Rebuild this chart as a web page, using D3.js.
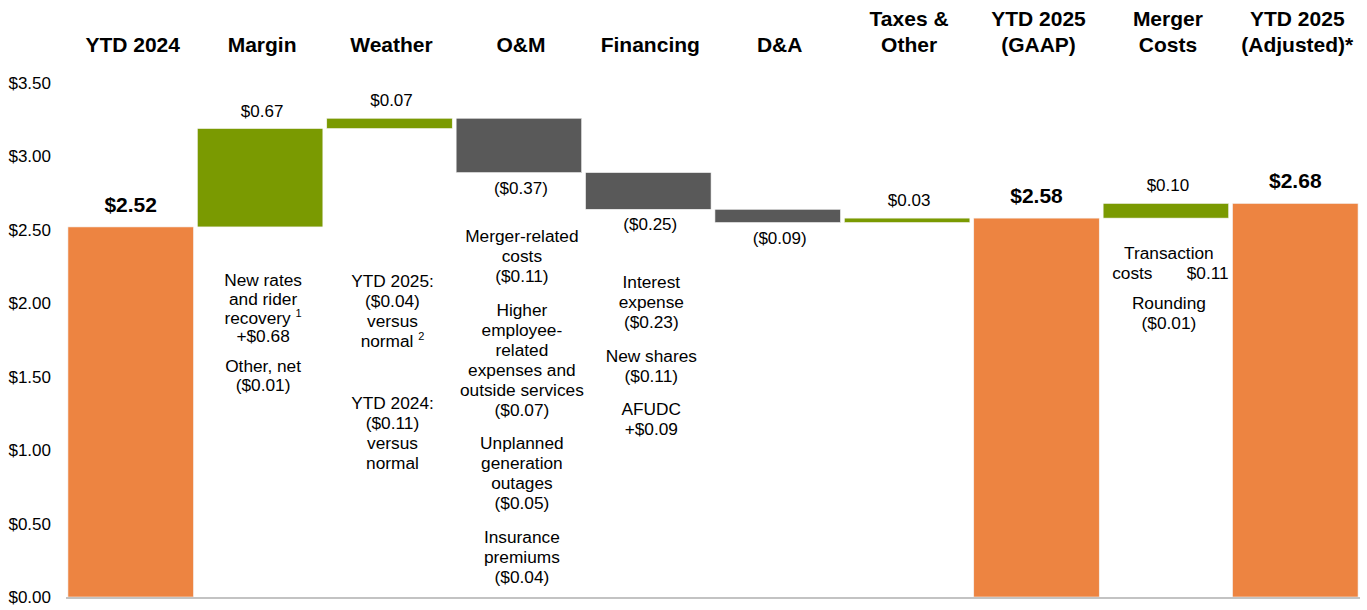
<!DOCTYPE html>
<html>
<head>
<meta charset="utf-8">
<script src="https://cdn.jsdelivr.net/npm/d3@7"></script>
<style>
  html, body { margin: 0; padding: 0; background: #fff; }
  svg { display: block; font-family: "Liberation Sans", Arial, Helvetica, sans-serif; }
</style>
</head>
<body>
<svg id="chart" width="1367" height="610"></svg>
<script>
// ---------- DATA ----------
const categories = ["YTD 2024", "Margin", "Weather", "O&M", "Financing", "D&A",
  "Taxes & Other", "YTD 2025 (GAAP)", "Merger Costs", "YTD 2025 (Adjusted)*"];
const headerLines = [["YTD 2024"], ["Margin"], ["Weather"], ["O&M"], ["Financing"], ["D&A"],
  ["Taxes &", "Other"], ["YTD 2025", "(GAAP)"], ["Merger", "Costs"], ["YTD 2025", "(Adjusted)*"]];
const values = [2.52, 0.67, 0.07, -0.37, -0.25, -0.09, 0.03, 2.58, 0.10, 2.68];
const kinds = ["total", "delta", "delta", "delta", "delta", "delta", "delta", "total", "delta", "total"];
const valueLabels = ["$2.52", "$0.67", "$0.07", "($0.37)", "($0.25)", "($0.09)", "$0.03", "$2.58", "$0.10", "$2.68"];
const yTicks = [0, 0.5, 1.0, 1.5, 2.0, 2.5, 3.0, 3.5];

// annotation blocks per category (each block = list of lines; "^" marks a superscript)
const annotMargin = [["New rates", "and rider", "recovery^1", "+$0.68"], ["Other, net", "($0.01)"]];
const annotWeather = [["YTD 2025:", "($0.04)", "versus", "normal^2"], ["YTD 2024:", "($0.11)", "versus", "normal"]];
const annotOM = [["Merger-related", "costs", "($0.11)"],
  ["Higher", "employee-", "related", "expenses and", "outside services", "($0.07)"],
  ["Unplanned", "generation", "outages", "($0.05)"],
  ["Insurance", "premiums", "($0.04)"]];
const annotFinancing = [["Interest", "expense", "($0.23)"], ["New shares", "($0.11)"], ["AFUDC", "+$0.09"]];
const annotMerger = [["Transaction", "costs|$0.11"], ["Rounding", "($0.01)"]];

// ---------- LAYOUT ----------
const colors = { total: "#ED8441", up: "#7A9A01", down: "#595959" };
const svg = d3.select("#chart");
const x = d3.scaleBand().domain(categories).range([66, 1360]).paddingInner(0.03).paddingOuter(0.015);
const y = d3.scaleLinear().domain([0, 3.5]).range([597, 83]);

// compute waterfall extents
let running = 0;
const bars = categories.map((c, i) => {
  let y0, y1;
  if (kinds[i] === "total") { y0 = 0; y1 = values[i]; running = values[i]; }
  else { y0 = running; y1 = running + values[i]; running = y1; }
  return { cat: c, v: values[i], kind: kinds[i], lo: Math.min(y0, y1), hi: Math.max(y0, y1), label: valueLabels[i] };
});

// y axis labels
const yAxis = d3.axisLeft(y).tickValues(yTicks).tickFormat(d => "$" + d3.format(".2f")(d)).tickSize(0).tickPadding(0);
const yg = svg.append("g").attr("transform", "translate(51,0)").call(yAxis);
yg.select(".domain").remove();
yg.selectAll("text").attr("font-size", 17).attr("fill", "#000")
  .attr("font-family", "'Liberation Sans', Arial, sans-serif");

// bars
svg.append("g").selectAll("rect").data(bars).join("rect")
  .attr("x", d => x(d.cat))
  .attr("width", x.bandwidth())
  .attr("y", d => y(d.hi))
  .attr("height", d => Math.max(1, y(d.lo) - y(d.hi)))
  .attr("fill", d => d.kind === "total" ? colors.total : (d.v >= 0 ? colors.up : colors.down))
  .attr("stroke", "#f4f4f4").attr("stroke-width", 0.6);

// baseline
svg.append("line").attr("x1", 66).attr("x2", 1360).attr("y1", y(0) + 1).attr("y2", y(0) + 1)
  .attr("stroke", "#c3c3c3").attr("stroke-width", 2);

// headers
const hg = svg.append("g");
categories.forEach((c, i) => {
  const lines = headerLines[i];
  const cx = x(c) + x.bandwidth() / 2 + 2;
  lines.forEach((l, j) => {
    const base = 52 - (lines.length - 1 - j) * 26;
    hg.append("text").attr("x", cx).attr("y", base).attr("text-anchor", "middle")
      .attr("font-size", 21).attr("font-weight", "bold").attr("fill", "#000").text(l);
  });
});

// value labels
svg.append("g").selectAll("text").data(bars).join("text")
  .attr("x", d => x(d.cat) + x.bandwidth() / 2 + (d.kind === "total" ? 0 : 2))
  .attr("y", d => d.kind === "total" ? y(d.hi) - 15 : (d.v >= 0 ? y(d.hi) - 12 : y(d.lo) + 21))
  .attr("text-anchor", "middle")
  .attr("font-size", d => d.kind === "total" ? 21 : 17)
  .attr("font-weight", d => d.kind === "total" ? "bold" : "normal")
  .attr("fill", "#000")
  .text(d => d.label);

// annotations
const LH = 20, GAP = 13.5, FS = 17.3;
function drawAnnot(cat, blocks, startY, blockStarts, lh) {
  const step = lh || LH;
  const g = svg.append("g");
  const x0 = x(cat), bw = x.bandwidth(), cx = x0 + bw / 2 + 3;
  let yy = startY;
  blocks.forEach((blk, bi) => {
    if (blockStarts && blockStarts[bi] != null) yy = blockStarts[bi];
    blk.forEach(line => {
      if (line.includes("|")) {
        const [a, b] = line.split("|");
        g.append("text").attr("x", x0 + 9).attr("y", yy).attr("font-size", FS).attr("fill", "#000").text(a);
        g.append("text").attr("x", x0 + bw).attr("y", yy).attr("text-anchor", "end").attr("font-size", FS).attr("fill", "#000").text(b);
      } else {
        const t = g.append("text").attr("x", cx).attr("y", yy).attr("text-anchor", "middle")
          .attr("font-size", FS).attr("fill", "#000");
        if (line.includes("^")) {
          const [a, b] = line.split("^");
          t.append("tspan").text(a + " ");
          t.append("tspan").attr("font-size", 11).attr("dy", -7).text(b);
        } else t.text(line);
      }
      yy += step;
    });
    yy += GAP;
  });
}
drawAnnot("Margin", annotMargin, 286, [286, 372], 18.8);
drawAnnot("Weather", annotWeather, 287, [287, 409]);
drawAnnot("O&M", annotOM, 242);
drawAnnot("Financing", annotFinancing, 288);
drawAnnot("Merger Costs", annotMerger, 259, [259, 309]);
</script>
</body>
</html>
